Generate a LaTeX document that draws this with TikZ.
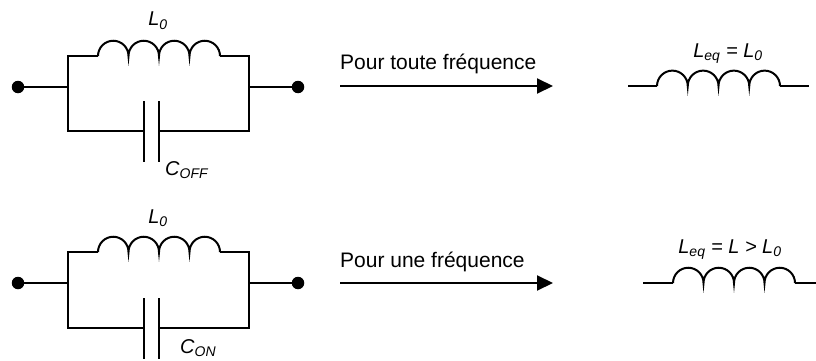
\documentclass[tikz,border=0pt]{standalone}
\usepackage{fontspec}
\setmainfont{Liberation Sans}
\usetikzlibrary{arrows.meta}
\begin{document}
\begin{tikzpicture}[x=1pt,y=1pt,
  wire/.style={line width=2pt},
  term/.style={circle,fill=black,inner sep=0pt,minimum size=12.5pt},
  lbl/.style={font=\fontsize{20}{24}\selectfont\itshape,inner sep=0pt,anchor=base},
  txt/.style={font=\fontsize{21}{25}\selectfont,inner sep=0pt,anchor=base west},
  arr/.style={line width=2pt,-{Triangle[length=16pt,width=15pt]}},
  coil/.style={line width=2pt}]
\useasboundingbox (0,0) rectangle (816,-361);

% ---------- top circuit ----------
\node[term] (t1) at (18,-87) {};
\node[term] (t2) at (298,-87) {};
\coordinate (tl) at (68,-87);
\coordinate (tr) at (249,-87);
\coordinate (tlt) at (68,-56);
\coordinate (trt) at (249,-56);
\coordinate (tlb) at (68,-131);
\coordinate (trb) at (249,-131);
\coordinate (tcs) at (98,-56);
\coordinate (tce) at (220,-56);
\coordinate (tpa) at (144,-131);
\coordinate (tpb) at (159,-131);
\draw[wire] (t1) -- (tl);
\draw[wire] (tr) -- (t2);
\draw[wire] (tcs) -- (tlt) -- (tlb) -- (tpa);
\draw[wire] (tce) -- (trt) -- (trb) -- (tpb);
\draw[coil] (tcs) arc[start angle=180,end angle=0,radius=15.25pt]
  arc[start angle=180,end angle=0,radius=15.25pt]
  arc[start angle=180,end angle=0,radius=15.25pt]
  arc[start angle=180,end angle=0,radius=15.25pt];
\draw[wire] ([yshift=30pt]tpa) -- ([yshift=-31pt]tpa);
\draw[wire] ([yshift=30pt]tpb) -- ([yshift=-31pt]tpb);
\node[lbl] (tL) at (158,-26) {L\textsubscript{0}};
\node[lbl,anchor=base west] (tC) at (165,-175) {C\textsubscript{OFF}};

% ---------- top arrow ----------
\coordinate (ta1) at (340,-86);
\coordinate (ta2) at (553,-86);
\draw[arr] (ta1) -- (ta2);
\node[txt] (tt) at (340,-70) {Pour toute fréquence};

% ---------- top equivalent ----------
\coordinate (te1) at (628,-86);
\coordinate (te2) at (657,-86);
\coordinate (te3) at (780,-86);
\coordinate (te4) at (809,-86);
\draw[wire] (te1) -- (te2);
\draw[wire] (te3) -- (te4);
\draw[coil] (te2) arc[start angle=180,end angle=0,radius=15.375pt]
  arc[start angle=180,end angle=0,radius=15.375pt]
  arc[start angle=180,end angle=0,radius=15.375pt]
  arc[start angle=180,end angle=0,radius=15.375pt];
\node[lbl] (tE) at (728,-57) {L\textsubscript{eq} = L\textsubscript{0}};

% ---------- bottom circuit ----------
\node[term] (b1) at (18,-283) {};
\node[term] (b2) at (298,-283) {};
\coordinate (bl) at (68,-283);
\coordinate (br) at (249,-283);
\coordinate (blt) at (68,-252);
\coordinate (brt) at (249,-252);
\coordinate (blb) at (68,-328);
\coordinate (brb) at (249,-328);
\coordinate (bcs) at (98,-252);
\coordinate (bce) at (220,-252);
\coordinate (bpa) at (144,-328);
\coordinate (bpb) at (159,-328);
\draw[wire] (b1) -- (bl);
\draw[wire] (br) -- (b2);
\draw[wire] (bcs) -- (blt) -- (blb) -- (bpa);
\draw[wire] (bce) -- (brt) -- (brb) -- (bpb);
\draw[coil] (bcs) arc[start angle=180,end angle=0,radius=15.25pt]
  arc[start angle=180,end angle=0,radius=15.25pt]
  arc[start angle=180,end angle=0,radius=15.25pt]
  arc[start angle=180,end angle=0,radius=15.25pt];
\draw[wire] ([yshift=30pt]bpa) -- ([yshift=-31pt]bpa);
\draw[wire] ([yshift=30pt]bpb) -- ([yshift=-31pt]bpb);
\node[lbl] (bL) at (158,-223) {L\textsubscript{0}};
\node[lbl,anchor=base west] (bC) at (180,-353) {C\textsubscript{ON}};

% ---------- bottom arrow ----------
\coordinate (ba1) at (340,-283);
\coordinate (ba2) at (553,-283);
\draw[arr] (ba1) -- (ba2);
\node[txt] (bt) at (340,-267) {Pour une fréquence};

% ---------- bottom equivalent ----------
\coordinate (be1) at (643,-283);
\coordinate (be2) at (673,-283);
\coordinate (be3) at (795,-283);
\coordinate (be4) at (816,-283);
\draw[wire] (be1) -- (be2);
\draw[wire] (be3) -- (be4);
\draw[coil] (be2) arc[start angle=180,end angle=0,radius=15.25pt]
  arc[start angle=180,end angle=0,radius=15.25pt]
  arc[start angle=180,end angle=0,radius=15.25pt]
  arc[start angle=180,end angle=0,radius=15.25pt];
\node[lbl] (bE) at (730,-253) {L\textsubscript{eq} = L > L\textsubscript{0}};
\end{tikzpicture}
\end{document}
